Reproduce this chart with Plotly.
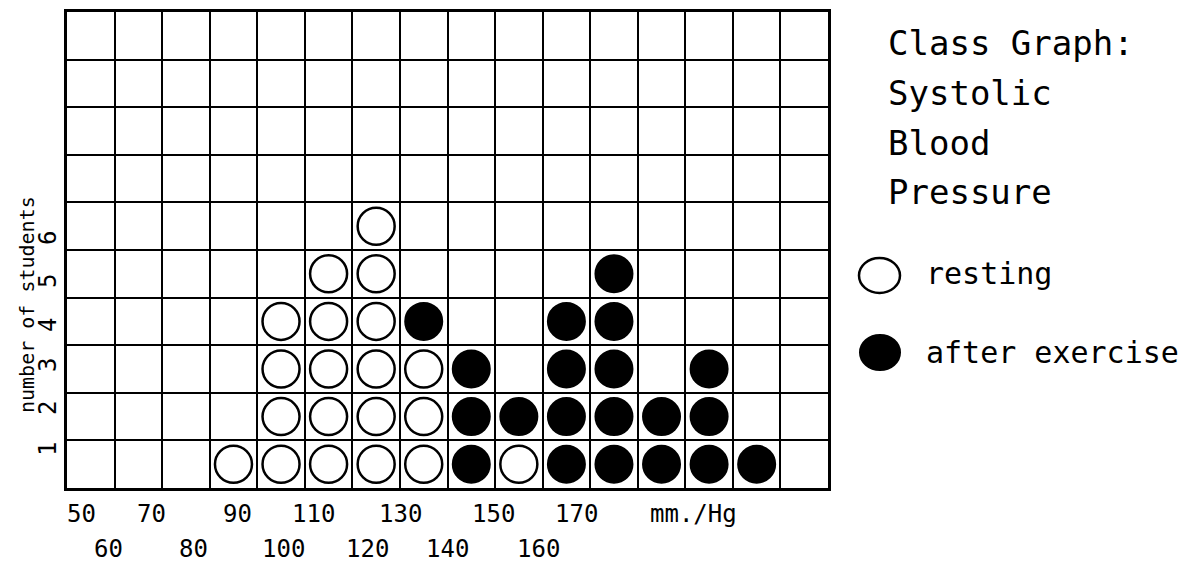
import plotly.graph_objects as go

# ---------------- data ----------------
n_cols = 16
n_rows = 10
resting_counts = [0, 0, 0, 1, 4, 5, 6, 3, 0, 1, 0, 0, 0, 0, 0, 0]
exercise_counts = [0, 0, 0, 0, 0, 0, 0, 1, 3, 1, 4, 5, 2, 3, 1, 0]
x_labels_top = ["50", "70", "90", "110", "130", "150", "170", "mm./Hg"]
x_labels_bottom = ["60", "80", "100", "120", "140", "160"]
y_labels = ["1", "2", "3", "4", "5", "6"]
y_title = "number of students"
title_lines = ["Class Graph:", "Systolic", "Blood", "Pressure"]
legend_labels = ["resting", "after exercise"]

# ---------------- layout constants (target-picture pixels) ----------------
PAGE_OFF = 8                      # browser body margin
W, H = 1190 - PAGE_OFF, 562 - PAGE_OFF
PLOT_L, PLOT_R, PLOT_T, PLOT_B = 67, 828, 12, 488
FONT = "DejaVu Sans Mono"

xlab_top_px = [81, 151, 237, 313, 400, 493, 576, 693]
xlab_bot_px = [108, 193, 283, 367, 447, 538]
ylab_px = [449, 408, 365, 325, 281, 238]


def px(x):
    return (x - PAGE_OFF) / W


def py(y):
    return 1 - (y - PAGE_OFF) / H


# ---------------- points from counts ----------------
rx, ry, ex, ey = [], [], [], []
for c in range(n_cols):
    r = resting_counts[c]
    e = exercise_counts[c]
    for k in range(r):
        rx.append(c + 0.5)
        ry.append(k + 0.5)
    for k in range(e):
        ex.append(c + 0.5)
        ey.append(r + k + 0.5)

fig = go.Figure()
fig.add_trace(go.Scatter(
    x=rx, y=ry, mode="markers", name=legend_labels[0], showlegend=False,
    marker=dict(symbol="circle", size=37, color="white",
                line=dict(color="black", width=2.5)),
))
fig.add_trace(go.Scatter(
    x=ex, y=ey, mode="markers", name=legend_labels[1], showlegend=False,
    marker=dict(symbol="circle", size=37, color="black",
                line=dict(color="black", width=2)),
))

axis_common = dict(
    showgrid=True, gridcolor="black", gridwidth=2,
    showline=True, linecolor="black", linewidth=2.5, mirror=True,
    zeroline=False, showticklabels=False, ticks="",
    tick0=0, dtick=1, fixedrange=True,
)
fig.update_xaxes(range=[0, n_cols], domain=[px(PLOT_L), px(PLOT_R)], **axis_common)
fig.update_yaxes(range=[0, n_rows], domain=[py(PLOT_B), py(PLOT_T)], **axis_common)

annotations = []
for lab, x in zip(x_labels_top, xlab_top_px):
    annotations.append(dict(text=lab, x=px(x), y=py(514), xref="paper", yref="paper",
                            xanchor="center", yanchor="middle", showarrow=False,
                            font=dict(family=FONT, size=24, color="black")))
for lab, x in zip(x_labels_bottom, xlab_bot_px):
    annotations.append(dict(text=lab, x=px(x), y=py(549), xref="paper", yref="paper",
                            xanchor="center", yanchor="middle", showarrow=False,
                            font=dict(family=FONT, size=24, color="black")))
for lab, y in zip(y_labels, ylab_px):
    annotations.append(dict(text=lab, x=px(48), y=py(y), xref="paper", yref="paper",
                            xanchor="center", yanchor="middle", showarrow=False,
                            textangle=-90,
                            font=dict(family=FONT, size=24, color="black")))
annotations.append(dict(text=y_title, x=px(27), y=py(305), xref="paper", yref="paper",
                        xanchor="center", yanchor="middle", showarrow=False,
                        textangle=-90,
                        font=dict(family=FONT, size=20, color="black")))

title_y = [43, 93, 143, 192]
for line, y in zip(title_lines, title_y):
    annotations.append(dict(text=line, x=px(886), y=py(y), xref="paper", yref="paper",
                            xanchor="left", yanchor="middle", showarrow=False,
                            font=dict(family=FONT, size=34, color="black")))

legend_y = [274, 352]
for lab, y in zip(legend_labels, legend_y):
    annotations.append(dict(text=lab, x=px(924), y=py(y), xref="paper", yref="paper",
                            xanchor="left", yanchor="middle", showarrow=False,
                            font=dict(family=FONT, size=30, color="black")))

shapes = [
    dict(type="circle", xref="paper", yref="paper",
         x0=px(859), x1=px(900), y0=py(293), y1=py(258),
         line=dict(color="black", width=2.5), fillcolor="white"),
    dict(type="circle", xref="paper", yref="paper",
         x0=px(860), x1=px(900), y0=py(370), y1=py(335),
         line=dict(color="black", width=2), fillcolor="black"),
]

fig.update_layout(
    width=W, height=H,
    margin=dict(l=0, r=0, t=0, b=0),
    paper_bgcolor="white", plot_bgcolor="white",
    annotations=annotations, shapes=shapes,
    showlegend=False,
)

fig.write_html("out.html", config={"displayModeBar": False})
